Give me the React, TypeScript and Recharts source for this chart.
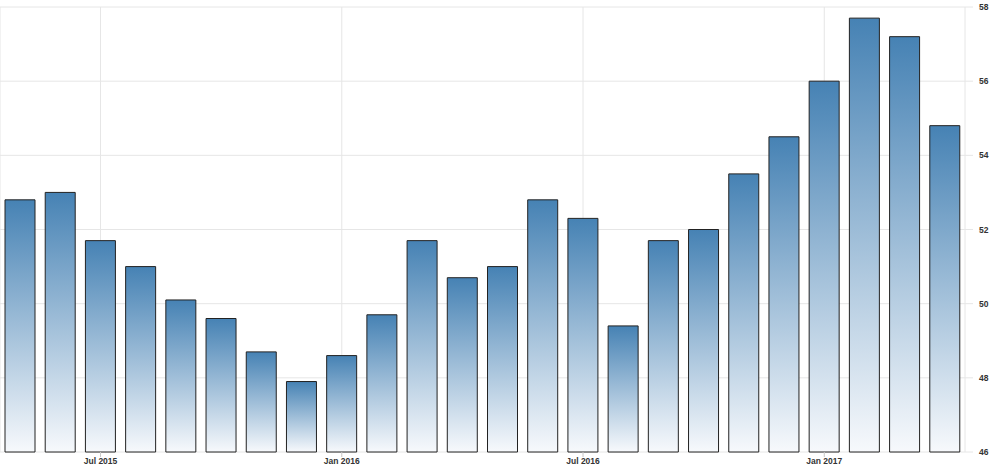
import { Bar, BarChart, CartesianGrid, XAxis, YAxis } from "recharts";

const months = [
  "May 2015", "Jun 2015", "Jul 2015", "Aug 2015", "Sep 2015", "Oct 2015",
  "Nov 2015", "Dec 2015", "Jan 2016", "Feb 2016", "Mar 2016", "Apr 2016",
  "May 2016", "Jun 2016", "Jul 2016", "Aug 2016", "Sep 2016", "Oct 2016",
  "Nov 2016", "Dec 2016", "Jan 2017", "Feb 2017", "Mar 2017", "Apr 2017"
];

const values = [
  52.8, 53.0, 51.7, 51.0, 50.1, 49.6, 48.7, 47.9, 48.6, 49.7, 51.7, 50.7,
  51.0, 52.8, 52.3, 49.4, 51.7, 52.0, 53.5, 54.5, 56.0, 57.7, 57.2, 54.8
];

const xTicks = ["Jul 2015", "Jan 2016", "Jul 2016", "Jan 2017"];
const yTicks = [46, 48, 50, 52, 54, 56, 58];

const data = months.map((name, i) => ({ name, value: values[i] }));

const tickFont = {
  fontFamily: "'Liberation Sans', Arial, sans-serif",
  fontSize: 8.5,
  fontWeight: 700,
  fill: "#333"
};

export default function App() {
  return (
    <div style={{ position: "absolute", top: 0, left: 0, width: 997, height: 469, background: "#fff" }}>
      <BarChart
        width={997}
        height={469}
        data={data}
        margin={{ top: 7, right: 0, bottom: 0, left: 0 }}
      >
        <defs>
          <linearGradient id="barFill" x1="0" y1="0" x2="0" y2="1">
            <stop offset="0%" stopColor="#4682b4" />
            <stop offset="100%" stopColor="#f7f9fc" />
          </linearGradient>
        </defs>
        <CartesianGrid stroke="#e6e6e6" />
        <XAxis
          dataKey="name"
          ticks={xTicks}
          interval={0}
          axisLine={false}
          tickLine={{ stroke: "#c8c8c8" }}
          tickSize={5}
          tickMargin={1}
          height={17}
          tick={tickFont}
        />
        <YAxis
          orientation="right"
          domain={[46, 58]}
          ticks={yTicks}
          axisLine={false}
          tickLine={{ stroke: "#e6e6e6" }}
          tickSize={8}
          tickMargin={6}
          width={32}
          tick={tickFont}
        />
        <Bar
          dataKey="value"
          fill="url(#barFill)"
          stroke="#222"
          strokeWidth={1}
          barSize={30}
          isAnimationActive={false}
        />
      </BarChart>
    </div>
  );
}
